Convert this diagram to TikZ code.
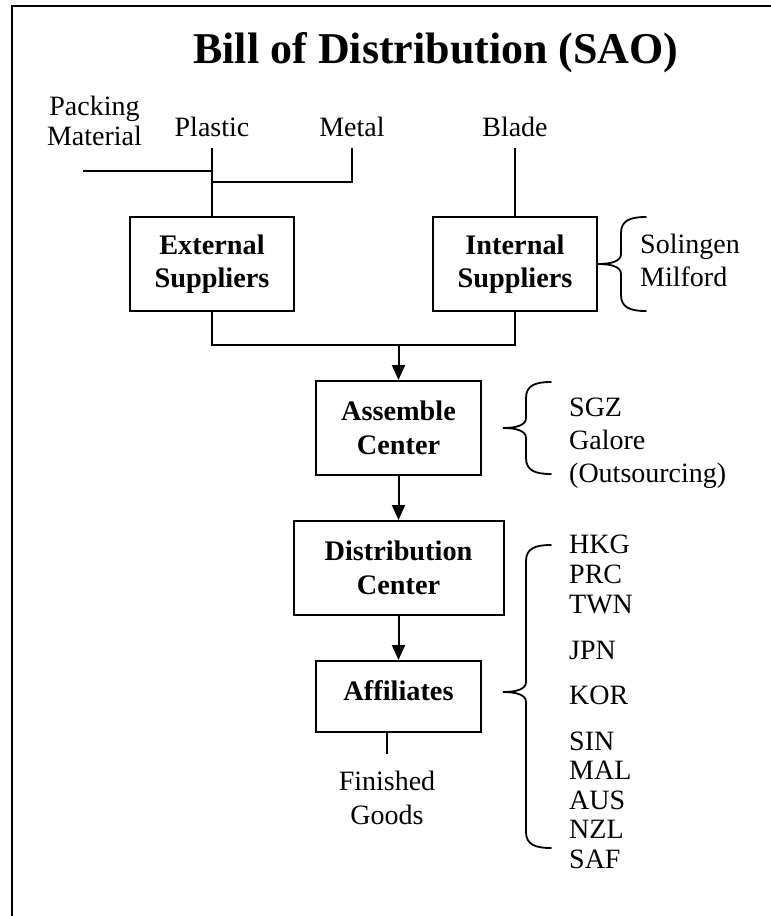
\documentclass[tikz,border=0pt]{standalone}
\usepackage{fontspec}
\setmainfont{Liberation Serif}
\usetikzlibrary{arrows.meta}
\begin{document}
\begin{tikzpicture}[x=1pt,y=-1pt,
  box/.style={draw, line width=2pt, align=center, inner sep=0pt,
    font=\fontsize{28.3}{33.5}\selectfont\bfseries},
  lbl/.style={font=\fontsize{28}{31}\selectfont, inner sep=0pt, anchor=base},
  lblw/.style={lbl, anchor=base west},
  wire/.style={line width=2pt},
  arr/.style={wire, -{Triangle[length=15pt,width=13pt]}},
  bracestyle/.style={line width=1.8pt, line cap=round},
  % left curly brace with its tip at the origin: #1 = extent up, #2 = extent down
  pics/lbrace/.style n args={2}{code={
    \draw[bracestyle] (48,-#1) .. controls (33,-#1) and (23,-#1+3) .. (23,-#1+16)
      -- (23,-10) .. controls (23,-3) and (14,0) .. (0,0)
      .. controls (14,0) and (23,3) .. (23,10)
      -- (23,#2-16) .. controls (23,#2-3) and (33,#2) .. (48,#2);
  }}
]
\useasboundingbox (0,0) rectangle (771,916);

% page frame (left and top rules)
\draw[line width=2pt] (12,916) -- (12,6) -- (771,6);

% title
\node[font=\fontsize{44}{50}\selectfont\bfseries, inner sep=0pt, anchor=base]
  (title) at (436,63) {Bill of Distribution (SAO)};

% raw materials
\node[lbl] (pk1) at (94.5,115) {Packing};
\node[lbl] (pk2) at (94.5,145) {Material};
\node[lbl] (plastic) at (212,136) {Plastic};
\node[lbl] (metal) at (352,136) {Metal};
\node[lbl] (blade) at (515,136) {Blade};

% process boxes
\node[box, minimum width=164pt, minimum height=94pt] (ext) at (212,264) {External\\Suppliers};
\node[box, minimum width=164pt, minimum height=94pt] (int) at (515,264) {Internal\\Suppliers};
\node[box, minimum width=165pt, minimum height=94pt] (asm) at (398.5,428) {Assemble\\Center};
\node[box, minimum width=210pt, minimum height=94pt] (dst) at (398.5,568) {Distribution\\Center};
\node[box, minimum width=165pt, minimum height=71pt, text depth=11pt] (aff) at (398.5,696.5) {Affiliates};

% feeds into the suppliers
\coordinate (plt) at (212,148);
\coordinate (pkt) at (83,171);
\coordinate (mtt) at (352,148);
\coordinate (mj) at (212,182);
\coordinate (blt) at (515,148);
\draw[wire] (plt) -- (ext.north);
\draw[wire] (pkt) -- (pkt -| plt);
\draw[wire] (mtt) |- (mj);
\draw[wire] (blt) -- (int.north);

% suppliers merge into assembly
\coordinate (jl) at (212,345);
\coordinate (jr) at (515,345);
\coordinate (ja) at (398.5,345);
\draw[wire] (ext.south) -- (jl) -- (jr) -- (int.south);
\draw[arr] (ja) -- (asm.north);
\draw[arr] (asm.south) -- (dst.north);
\draw[arr] (dst.south) -- (aff.north);

% output
\coordinate (fg) at (387,754);
\draw[wire] (aff.south -| fg) -- (fg);
\node[lbl] (fg1) at (387,790) {Finished};
\node[lbl] (fg2) at (387,824) {Goods};

% internal supplier sites
\pic at (int.east) {lbrace={47}{47}};
\node[lblw] (sol) at (640,253) {Solingen};
\node[lblw] (mil) at (640,286) {Milford};

% assembly sites
\pic at (503,428) {lbrace={46}{46}};
\node[lblw] (sgz) at (569,416) {SGZ};
\node[lblw] (gal) at (569,449) {Galore};
\node[lblw] (out) at (569,482) {(Outsourcing)};

% affiliate countries
\pic at (503,692) {lbrace={147}{156}};
\foreach \c/\yy in {HKG/553.5, PRC/583.5, TWN/613, JPN/659, KOR/704,
                    SIN/750, MAL/779.5, AUS/809, NZL/838.5, SAF/868}
  \node[lblw] (c-\c) at (569,\yy) {\c};
\end{tikzpicture}
\end{document}
